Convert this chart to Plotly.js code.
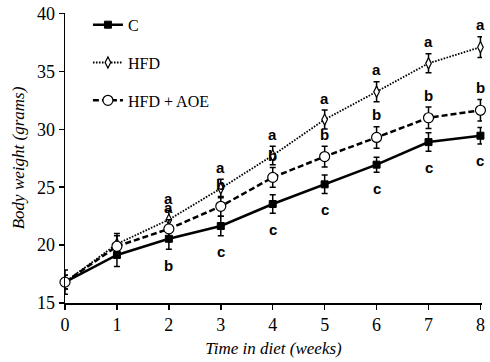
<!DOCTYPE html>
<html>
<head>
<meta charset="utf-8">
<script src="https://cdn.plot.ly/plotly-3.0.1.min.js"></script>
<style>html,body{margin:0;padding:0;background:#fff;}#chart{width:490px;height:362px;}</style>
</head>
<body>
<div id="chart"></div>
<script>
// Data
var weeks = [0, 1, 2, 3, 4, 5, 6, 7, 8];
var seriesNames = ['C', 'HFD', 'HFD + AOE'];
var cMean   = [16.8, 19.15, 20.55, 21.65, 23.55, 25.25, 26.95, 28.9, 29.45];
var cErr    = [1.05, 1.0, 0.9, 0.85, 0.8, 0.8, 0.65, 0.8, 0.72];
var hfdMean = [16.8, 20.1, 22.2, 24.9, 27.75, 30.85, 33.25, 35.7, 37.1];
var hfdErr  = [0.6, 0.9, 0.8, 0.8, 0.8, 0.82, 0.86, 0.82, 0.9];
var aoeMean = [16.8, 19.9, 21.4, 23.35, 25.85, 27.65, 29.3, 31.0, 31.65];
var aoeErr  = [0.6, 0.9, 0.8, 0.85, 0.85, 0.9, 0.93, 0.93, 0.93];
var hfdLetters = ['', '', 'a', 'a', 'a', 'a', 'a', 'a', 'a'];
var aoeLetters = ['', '', 'a', 'b', 'b', 'b', 'b', 'b', 'b'];
var cLetters   = ['', '', 'b', 'c', 'c', 'c', 'c', 'c', 'c'];
var xTicks = [0, 1, 2, 3, 4, 5, 6, 7, 8];
var yTicks = [15, 20, 25, 30, 35, 40];

function errBar(arr) {
  return {type: 'data', array: arr, visible: true, color: '#000', thickness: 1.5, width: 3};
}

var traces = [
  {
    x: weeks, y: cMean, name: seriesNames[0], legendgroup: 'g1',
    mode: 'lines+markers', cliponaxis: false,
    line: {color: '#000', width: 2.5, dash: 'solid'},
    marker: {symbol: 'square', size: 7, color: '#000', line: {color: '#000', width: 1}},
    error_y: errBar(cErr)
  },
  {
    x: weeks, y: hfdMean, name: seriesNames[1], legendgroup: 'g2',
    mode: 'lines+markers', cliponaxis: false,
    line: {color: '#000', width: 1.8, dash: '1.6px,1.4px'},
    marker: {symbol: 'diamond-tall', size: 8, color: '#fff', line: {color: '#000', width: 1.2}},
    error_y: errBar(hfdErr)
  },
  {
    x: weeks, y: aoeMean, name: seriesNames[2], legendgroup: 'g3',
    mode: 'lines+markers', cliponaxis: false,
    line: {color: '#000', width: 2.5, dash: '6px,3px'},
    marker: {symbol: 'circle', size: 10, color: '#fff', line: {color: '#000', width: 1.2}},
    error_y: errBar(aoeErr)
  }
];

var letterFont = {family: 'Liberation Sans Narrow, Liberation Sans, Arial', size: 15, color: '#000', weight: 'bold'};
var annotations = [];
for (var i = 0; i < weeks.length; i++) {
  if (hfdLetters[i]) annotations.push({x: weeks[i], y: hfdMean[i] + hfdErr[i], text: '<b>' + hfdLetters[i] + '</b>', showarrow: false, yanchor: 'middle', yshift: 12, font: letterFont});
  if (aoeLetters[i]) annotations.push({x: weeks[i], y: aoeMean[i] + aoeErr[i], text: '<b>' + aoeLetters[i] + '</b>', showarrow: false, yanchor: 'middle', yshift: 12, font: letterFont});
  if (cLetters[i]) annotations.push({x: weeks[i], y: cMean[i] - cErr[i], text: '<b>' + cLetters[i] + '</b>', showarrow: false, yanchor: 'middle', yshift: -16, font: letterFont});
}

var layout = {
  width: 490, height: 362,
  margin: {l: 65, r: 8, t: 13, b: 59},
  paper_bgcolor: '#fff', plot_bgcolor: '#fff',
  showlegend: true,
  legend: {
    x: 0.055, y: 1.018, xanchor: 'left', yanchor: 'top',
    bgcolor: 'rgba(0,0,0,0)', borderwidth: 0,
    font: {family: 'Liberation Serif, Times New Roman, serif', size: 16, color: '#000'},
    tracegroupgap: 14, itemwidth: 30
  },
  xaxis: {
    range: [0, 8.03], tickvals: xTicks, ticktext: xTicks.map(String),
    showgrid: false, zeroline: false, showline: true, linecolor: '#000', linewidth: 1.5,
    ticks: 'outside', ticklen: 5, tickwidth: 1.5, tickcolor: '#000',
    tickfont: {family: 'Liberation Serif, Times New Roman, serif', size: 18, color: '#000'},
    title: {text: 'Time in diet (weeks)', standoff: 8,
      font: {family: 'Liberation Serif, Times New Roman, serif', size: 17, color: '#000', style: 'italic'}}
  },
  yaxis: {
    range: [15, 40.05], tickvals: yTicks, ticktext: yTicks.map(String),
    showgrid: false, zeroline: false, showline: true, linecolor: '#000', linewidth: 1.5,
    ticks: 'outside', ticklen: 5, tickwidth: 1.5, tickcolor: '#000',
    tickfont: {family: 'Liberation Serif, Times New Roman, serif', size: 18, color: '#000'},
    title: {text: 'Body weight (grams)', standoff: 8,
      font: {family: 'Liberation Serif, Times New Roman, serif', size: 17, color: '#000', style: 'italic'}}
  },
  annotations: annotations
};

Plotly.newPlot('chart', traces, layout, {displayModeBar: false, staticPlot: true});
</script>
</body>
</html>
